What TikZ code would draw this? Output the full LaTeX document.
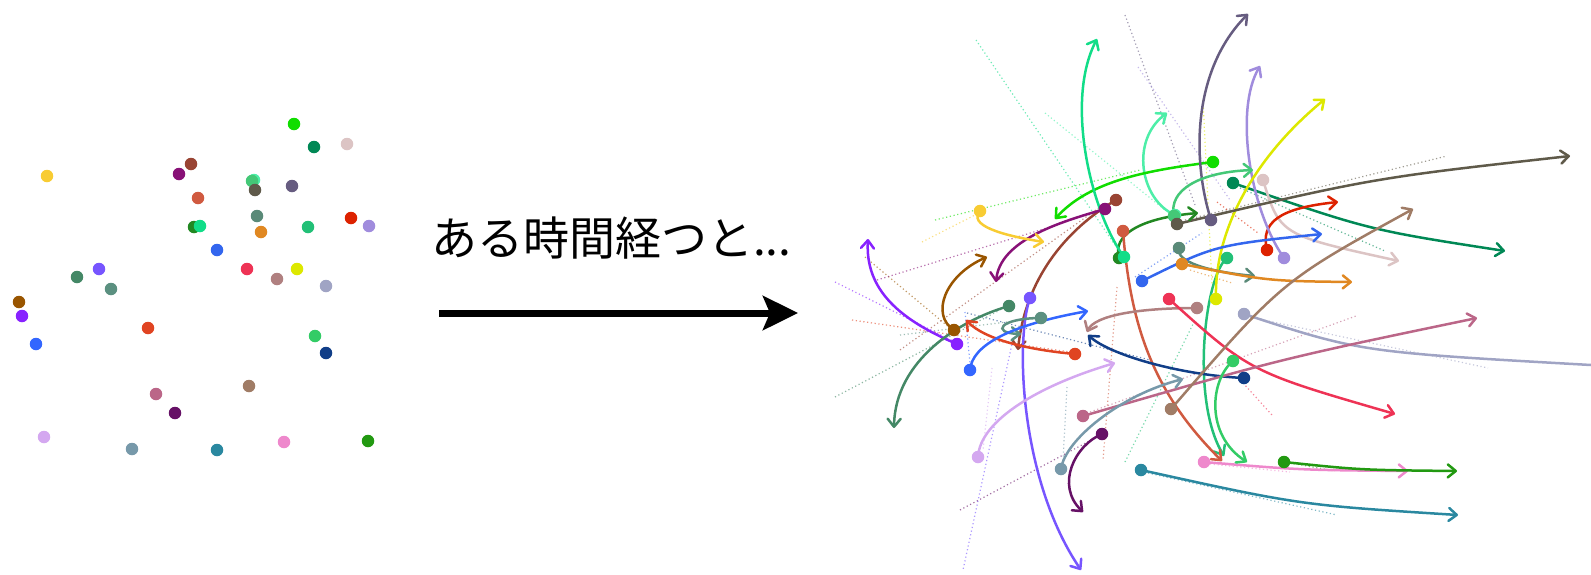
\documentclass[tikz,border=0pt]{standalone}
\usepackage{fontspec}
\newfontfamily\cjk{Noto Sans CJK JP}
\usetikzlibrary{arrows.meta}
\definecolor{k01}{HTML}{11DD00}
\definecolor{k02}{HTML}{008855}
\definecolor{k03}{HTML}{DCC4C4}
\definecolor{k04}{HTML}{665C80}
\definecolor{k05}{HTML}{DD2200}
\definecolor{k06}{HTML}{A08CDD}
\definecolor{k07}{HTML}{22C077}
\definecolor{k08}{HTML}{DDE800}
\definecolor{k09}{HTML}{5F5A4A}
\definecolor{k10}{HTML}{44C877}
\definecolor{k11}{HTML}{4DEEA8}
\definecolor{k12}{HTML}{5A8A78}
\definecolor{k13}{HTML}{E08822}
\definecolor{k14}{HTML}{3366EE}
\definecolor{k15}{HTML}{228822}
\definecolor{k16}{HTML}{11DD88}
\definecolor{k17}{HTML}{D05A40}
\definecolor{k18}{HTML}{994433}
\definecolor{k19}{HTML}{881177}
\definecolor{k20}{HTML}{F8CC33}
\definecolor{k21}{HTML}{7755FF}
\definecolor{k22}{HTML}{8822FF}
\definecolor{k23}{HTML}{995500}
\definecolor{k24}{HTML}{448866}
\definecolor{k25}{HTML}{5B9080}
\definecolor{k26}{HTML}{E04422}
\definecolor{k27}{HTML}{3366FF}
\definecolor{k28}{HTML}{B08080}
\definecolor{k29}{HTML}{113E88}
\definecolor{k30}{HTML}{EE3355}
\definecolor{k31}{HTML}{A0A4C4}
\definecolor{k32}{HTML}{BB6688}
\definecolor{k33}{HTML}{A07C66}
\definecolor{k34}{HTML}{661166}
\definecolor{k35}{HTML}{D4A8F0}
\definecolor{k36}{HTML}{7799AA}
\definecolor{k37}{HTML}{2A88A0}
\definecolor{k38}{HTML}{EE88CC}
\definecolor{k39}{HTML}{229911}
\definecolor{k40}{HTML}{33CC66}
\tikzset{
  dot/.style={circle,inner sep=0pt,minimum size=12.5pt,draw=none},
  arr/.style={line width=2.5pt,line cap=round,-{Straight Barb[length=8pt,width=13pt,round]}},
  trail/.style={line width=1.2pt,dash pattern=on 1.2pt off 2.6pt,opacity=.6},
}
\begin{document}
\begin{tikzpicture}[x=1pt,y=-1pt]
\useasboundingbox (0,0) rectangle (1591,574);
% ---------- left: initial positions ----------
\foreach \c/\x/\y in {k11/254/180,k01/294/124,k02/314/147,k03/347/144,k04/292/186,k05/351/218,k06/369/226,k07/308/227,k08/297/269,k10/252/181,k09/255/190,k12/257/216,k13/261/232,k14/217/250,k15/194/227,k16/200/226,k17/198/198,k18/191/164,k19/179/174,k20/47/176,k21/99/269,k22/22/316,k23/19/302,k24/77/277,k25/111/289,k26/148/328,k27/36/344,k28/277/279,k29/326/353,k30/247/269,k31/326/286,k32/156/394,k33/249/386,k34/175/413,k35/44/437,k36/132/449,k37/217/450,k38/284/442,k39/368/441,k40/315/336}
  \node[dot,fill=\c] (l\c) at (\x,\y) {};
% ---------- middle: caption and arrow ----------
\node[font=\cjk\fontsize{46}{52}\selectfont,anchor=west,inner sep=0pt] (txt) at (431,238) {ある時間経つと...};
\coordinate (a0) at (439,313);
\coordinate (a1) at (798,313);
\draw[line width=7pt,-{Stealth[length=35pt,width=34pt,inset=7pt]}] (a0) -- (a1);
% ---------- right: dotted trails ----------
\draw[trail,k16] (976,40) -- (1115,245);
\draw[trail,k11] (1045,113) -- (1165,210);
\draw[trail,k01] (935,220) -- (1140,170);
\draw[trail,k20] (922,242) -- (975,215);
\draw[trail,k04] (1125,15) -- (1195,205);
\draw[trail,k06] (1138,67) -- (1230,200);
\draw[trail,k08] (1203,100) -- (1212,285);
\draw[trail,k09] (1185,220) -- (1447,156);
\draw[trail,k02] (1240,188) -- (1385,251);
\draw[trail,k05] (1217,202) -- (1258,233);
\draw[trail,k14] (1135,277) -- (1202,233);
\draw[trail,k31] (1250,317) -- (1488,368);
\draw[trail,k32] (1090,412) -- (1356,316);
\draw[trail,k37] (1148,473) -- (1337,515);
\draw[trail,k38] (1210,464) -- (1290,472);
\draw[trail,k39] (1290,463) -- (1335,471);
\draw[trail,k30] (1243,383) -- (1272,415);
\draw[trail,k17] (1117,287) -- (1103,460);
\draw[trail,k36] (1067,387) -- (1063,460);
\draw[trail,k35] (992,368) -- (983,450);
\draw[trail,k21] (1015,330) -- (963,570);
\draw[trail,k34] (960,510) -- (1095,438);
\draw[trail,k26] (852,320) -- (1070,352);
\draw[trail,k24] (835,397) -- (1000,310);
\draw[trail,k22] (835,282) -- (955,342);
\draw[trail,k23] (865,257) -- (950,328);
\draw[trail,k18] (900,350) -- (1100,207);
\draw[trail,k19] (877,280) -- (1050,227);
\draw[trail,k29] (967,313) -- (1150,360);
\draw[trail,k07] (1125,462) -- (1195,320);
\draw[trail,k13] (1190,270) -- (1232,283);
\draw[trail,k25] (900,335) -- (1040,318);
\draw[trail,k27] (965,312) -- (970,363);
% ---------- right: positions after some time ----------
\foreach \c/\x/\y in {k11/1175/215,k01/1213/162,k02/1233/183,k03/1263/180,k04/1211/220,k05/1267/250,k06/1284/258,k07/1227/258,k08/1216/299,k10/1174/216,k09/1177/224,k12/1179/248,k13/1182/264,k14/1142/281,k15/1119/258,k16/1124/257,k17/1123/231,k18/1116/200,k19/1105/209,k20/980/211,k21/1030/298,k22/957/344,k23/954/330,k24/1009/306,k25/1041/318,k26/1075/354,k27/970/370,k28/1197/308,k29/1244/378,k30/1169/299,k31/1244/314,k32/1083/416,k33/1171/409,k34/1102/434,k35/978/457,k36/1061/469,k37/1141/470,k38/1204/462,k39/1284/462,k40/1233/361}
  \coordinate (r\c) at (\x,\y);
\foreach \c/\x/\y in {k01/1055/219,k02/1505/251,k03/1399/261,k04/1248/14,k05/1338/202,k06/1260/66,k07/1224/456,k08/1325/99,k09/1570/156,k10/1253/170,k11/1167/113,k12/1255/276,k13/1352/282,k14/1322/234,k15/1198/213,k16/1097/39,k17/1222/461,k18/1018/350,k19/996/282,k20/1044/242,k21/1081/570,k22/868/239,k23/987/257,k24/894/428,k25/1021/334,k26/966/320,k27/1088/311,k28/1087/332,k29/1088/335,k30/1395/414,k31/1591/365,k32/1477/318,k33/1413/209,k34/1083/512,k35/1115/363,k36/1183/379,k37/1458/515,k38/1408/471,k39/1457/471,k40/1247/462}
  \coordinate (e\c) at (\x,\y);
% ---------- right: curved arrows ----------
\draw[arr,k11] (rk11) .. controls (1140,200) and (1130,140) .. (ek11);
\draw[arr,k01] (rk01) .. controls (1150,170) and (1090,180) .. (ek01);
\draw[arr,k02] (rk02) .. controls (1369,230) .. (ek02);
\draw[arr,k03] (rk03) .. controls (1280,235) .. (ek03);
\draw[arr,k04] (rk04) .. controls (1192,160) and (1192,70) .. (ek04);
\draw[arr,k05] (rk05) .. controls (1260,222) and (1280,208) .. (ek05);
\draw[arr,k06] (rk06) .. controls (1250,210) and (1234,110) .. (ek06);
\draw[arr,k07] (rk07) .. controls (1205,275) and (1190,400) .. (ek07);
\draw[arr,k08] (rk08) .. controls (1214,240) and (1245,165) .. (ek08);
\draw[arr,k09] (rk09) .. controls (1373,178) .. (ek09);
\draw[arr,k10] (rk10) .. controls (1168,190) and (1200,172) .. (ek10);
\draw[arr,k12] (rk12) .. controls (1175,262) and (1210,272) .. (ek12);
\draw[arr,k13] (rk13) .. controls (1267,281) .. (ek13);
\draw[arr,k14] (rk14) .. controls (1215,245) .. (ek14);
\draw[arr,k15] (rk15) .. controls (1112,235) and (1140,218) .. (ek15);
\draw[arr,k16] (rk16) .. controls (1090,210) and (1065,100) .. (ek16);
\draw[arr,k17] (rk17) .. controls (1130,320) and (1150,390) .. (ek17);
\draw[arr,k18] (rk18) .. controls (1065,230) and (1025,280) .. (ek18);
\draw[arr,k19] (rk19) .. controls (1060,222) and (1000,240) .. (ek19);
\draw[arr,k20] (rk20) .. controls (968,225) and (1000,235) .. (ek20);
\draw[arr,k21] (rk21) .. controls (1015,340) and (1020,480) .. (ek21);
\draw[arr,k22] (rk22) .. controls (900,320) and (865,290) .. (ek22);
\draw[arr,k23] (rk23) .. controls (930,315) and (945,275) .. (ek23);
\draw[arr,k24] (rk24) .. controls (960,320) and (895,360) .. (ek24);
\draw[arr,k25] (rk25) .. controls (1000,318) and (990,333) .. (ek25);
\draw[arr,k26] (rk26) .. controls (1030,350) and (985,340) .. (ek26);
\draw[arr,k27] (rk27) .. controls (972,345) and (1010,325) .. (ek27);
\draw[arr,k28] (rk28) .. controls (1140,308) and (1095,315) .. (ek28);
\draw[arr,k29] (rk29) .. controls (1180,375) and (1110,355) .. (ek29);
\draw[arr,k30] (rk30) .. controls (1250,372) .. (ek30);
\draw[line width=2.5pt,k31] (rk31) .. controls (1360,352) .. (ek31);
\draw[arr,k32] (rk32) .. controls (1280,359) .. (ek32);
\draw[arr,k33] (rk33) .. controls (1282,281) .. (ek33);
\draw[arr,k34] (rk34) .. controls (1075,445) and (1055,485) .. (ek34);
\draw[arr,k35] (rk35) .. controls (980,420) and (1040,385) .. (ek35);
\draw[arr,k36] (rk36) .. controls (1065,440) and (1120,395) .. (ek36);
\draw[arr,k37] (rk37) .. controls (1300,505) .. (ek37);
\draw[arr,k38] (rk38) .. controls (1300,470) .. (ek38);
\draw[arr,k39] (rk39) .. controls (1360,470) .. (ek39);
\draw[arr,k40] (rk40) .. controls (1210,380) and (1205,435) .. (ek40);
% ---------- right: dots ----------
\foreach \c in {k11,k01,k02,k03,k04,k05,k06,k07,k08,k10,k09,k12,k13,k14,k15,k16,k17,k18,k19,k20,k21,k22,k23,k24,k25,k26,k27,k28,k29,k30,k31,k32,k33,k34,k35,k36,k37,k38,k39,k40}
  \node[dot,fill=\c] (d\c) at (r\c) {};
\end{tikzpicture}
\end{document}
